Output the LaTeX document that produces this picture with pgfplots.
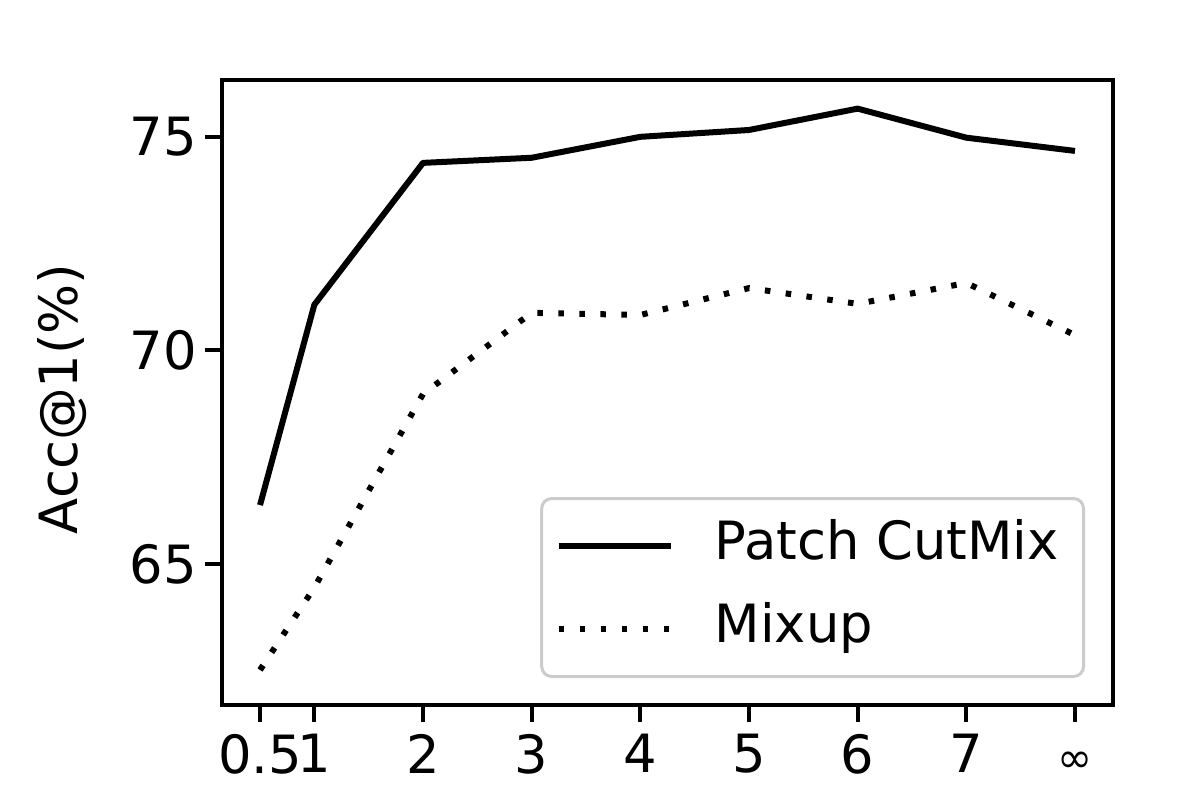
\documentclass[border=0pt]{standalone}
\usepackage{pgfplots}
\pgfplotsset{compat=1.18}
\usepackage{fontspec}
\setmainfont{DejaVu Sans}

\begin{document}
\begin{tikzpicture}
\useasboundingbox (-22.2mm,-9.4mm) rectangle (97.4mm,70.5mm);
\begin{axis}[
  at={(0,0)}, anchor=south west,
  scale only axis,
  width=89.1mm, height=62.5mm,
  xmin=0.15, xmax=8.35,
  ymin=61.7, ymax=76.33,
  xtick={0.5,1,2,3,4,5,6,7,8},
  xticklabels={0.5,1,2,3,4,5,6,7,{\rule{0pt}{3.85mm}\fontsize{12}{12}\selectfont ∞}},
  ytick={65,70,75},
  xtick pos=bottom, ytick pos=left,
  tick align=outside,
  major tick length=1.7mm,
  tick style={black, line width=0.4mm},
  axis line style={line width=0.45mm},
  tick label style={font=\fontsize{15}{18}\selectfont},
  /pgf/number format/assume math mode=true,
  yticklabel style={xshift=0.4mm},
  ylabel={Acc@1(\%)},
  ylabel style={at={(axis description cs:-0.1796,0.49)}, anchor=center, font=\fontsize{15}{18}\selectfont},
  legend cell align=left,
  legend style={
    at={(axis description cs:0.9686,0.0432)}, anchor=south east,
    draw=black!20, line width=0.3mm, rounded corners=1mm, fill=white,
    font=\fontsize{15}{18}\selectfont,
    inner xsep=1.4mm, inner ysep=2.2mm,
    nodes={inner sep=0pt, text height=3.9mm, text depth=1.2mm},
    row sep=3.2mm,
    /tikz/every odd column/.append style={column sep=4.1mm},
  },
  legend image code/.code={\draw[#1] (0mm,0mm) -- (11.2mm,0mm);},
]
\addplot[black, line width=0.6mm, line join=round] coordinates {
  (0.5,66.38) (1,71.07) (2,74.39) (3,74.51) (4,75.00)
  (5,75.16) (6,75.66) (7,74.98) (8,74.67)
};
\addlegendentry{Patch CutMix\hspace*{1.1mm}}
\addplot[black, line width=0.6mm, dash pattern=on 0.55mm off 1.55mm] coordinates {
  (0.5,62.52) (1,64.45) (2,68.98) (3,70.88) (4,70.83)
  (5,71.46) (6,71.09) (7,71.58) (8,70.36)
};
\addlegendentry{Mixup}
\end{axis}
\end{tikzpicture}
\end{document}
